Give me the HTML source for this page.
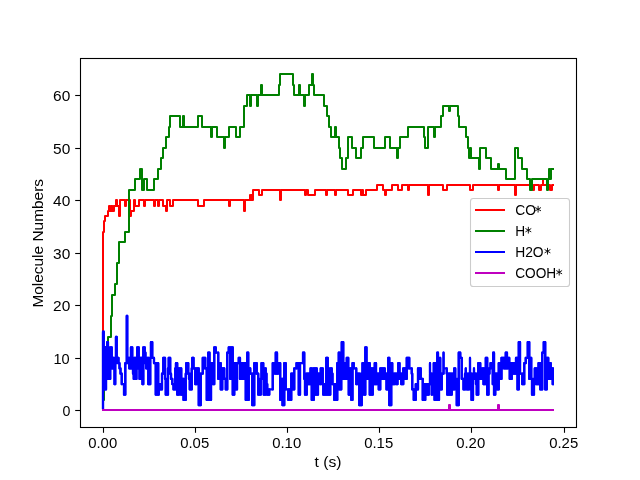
<!DOCTYPE html><html><head><meta charset="utf-8"><title>plot</title>
<style>html,body{margin:0;padding:0;background:#fff;}svg{display:block;will-change:transform;}text{font-family:"Liberation Sans",sans-serif;fill:#000;}</style></head><body>
<svg width="640" height="480" viewBox="0 0 640 480">
<rect x="0" y="0" width="640" height="480" fill="#ffffff"/>
<g fill="none" stroke-width="2.08" stroke-linejoin="round" stroke-linecap="butt">
<path d="M103 410 L103 232 L104 232 L104 221 L105 221 L105 216 L108 216 L108 211 L109 211 L109 206 L110 206 L110 211 L111 211 L111 206 L112 206 L112 211 L113 211 L113 206 L113 211 L114 211 L114 206 L116 206 L116 200 L117 200 L117 206 L119 206 L119 216 L120 216 L120 200 L125 200 L125 206 L126 206 L126 200 L130 200 L130 216 L131 216 L131 211 L134 211 L134 200 L135 200 L135 206 L139 206 L139 200 L144 200 L144 206 L145 206 L145 200 L154 200 L154 206 L155 206 L155 200 L158 200 L158 206 L159 206 L159 200 L163 200 L163 206 L166 206 L166 211 L167 211 L167 200 L170 200 L170 206 L173 206 L173 200 L198 200 L198 206 L204 206 L204 200 L229 200 L229 206 L230 206 L230 200 L244 200 L244 211 L245 211 L245 200 L250 200 L250 195 L250 200 L251 200 L251 195 L252 195 L252 200 L253 200 L253 190 L259 190 L259 195 L262 195 L262 190 L280 190 L280 200 L281 200 L281 190 L305 190 L305 195 L306 195 L306 190 L308 190 L308 195 L315 195 L315 190 L326 190 L326 195 L327 195 L327 190 L335 190 L335 195 L336 195 L336 190 L348 190 L348 195 L353 195 L353 190 L361 190 L361 195 L362 195 L362 190 L363 190 L363 195 L366 195 L366 190 L377 190 L377 185 L383 185 L383 190 L385 190 L385 195 L386 195 L386 190 L392 190 L392 185 L398 185 L398 190 L402 190 L402 185 L408 185 L408 190 L409 190 L409 185 L428 185 L428 195 L429 195 L429 185 L443 185 L443 190 L447 190 L447 185 L470 185 L470 190 L473 190 L473 185 L498 185 L498 190 L499 190 L499 185 L515 185 L515 195 L516 195 L516 185 L533 185 L533 190 L534 190 L534 185 L539 185 L539 190 L541 190 L541 185 L543 185 L543 179 L543 185 L550 185 L550 190 L552 190 L552 185 L554 185" stroke="#ff0000" stroke-width="2"/>
<path d="M103 410 L103 400 L104 400 L104 379 L106 379 L106 358 L106 347 L108 347 L108 337 L111 337 L111 316 L112 316 L112 305 L112 295 L115 295 L115 284 L117 284 L117 263 L119 263 L119 242 L125 242 L125 232 L129 232 L129 190 L135 190 L135 179 L140 179 L140 169 L142 169 L142 190 L144 190 L144 179 L147 179 L147 190 L154 190 L154 179 L158 179 L158 169 L161 169 L161 158 L163 158 L163 148 L166 148 L166 137 L169 137 L169 127 L170 127 L170 116 L180 116 L180 127 L183 127 L183 116 L184 116 L184 127 L198 127 L198 116 L202 116 L202 127 L211 127 L211 137 L212 137 L212 127 L217 127 L217 137 L224 137 L224 148 L225 148 L225 137 L229 137 L229 127 L236 127 L236 137 L240 137 L240 127 L244 127 L244 106 L247 106 L247 95 L250 95 L250 106 L251 106 L251 95 L257 95 L257 106 L258 106 L258 95 L261 95 L261 85 L262 85 L262 95 L279 95 L279 85 L280 85 L280 74 L293 74 L293 85 L294 85 L294 95 L299 95 L299 85 L300 85 L300 95 L304 95 L304 106 L305 106 L305 95 L309 95 L309 85 L312 85 L312 74 L313 74 L313 85 L314 85 L314 95 L324 95 L324 106 L327 106 L327 116 L329 116 L329 127 L331 127 L331 137 L335 137 L335 127 L336 127 L336 137 L339 137 L339 148 L340 148 L340 158 L342 158 L342 169 L346 169 L346 158 L348 158 L348 148 L348 137 L352 137 L352 148 L356 148 L356 158 L361 158 L361 148 L363 148 L363 137 L374 137 L374 148 L385 148 L385 137 L390 137 L390 148 L397 148 L397 158 L398 158 L398 148 L400 148 L400 137 L408 137 L408 127 L424 127 L424 137 L425 137 L425 148 L428 148 L428 127 L434 127 L434 137 L435 137 L435 127 L441 127 L441 116 L443 116 L443 106 L449 106 L449 111 L450 111 L450 106 L458 106 L458 116 L459 116 L459 127 L466 127 L466 137 L468 137 L468 148 L469 148 L469 158 L470 158 L470 148 L471 148 L471 158 L479 158 L479 169 L480 169 L480 148 L486 148 L486 158 L491 158 L491 169 L498 169 L498 164 L499 164 L499 169 L506 169 L506 179 L515 179 L515 148 L518 148 L518 158 L522 158 L522 169 L527 169 L527 179 L530 179 L530 190 L532 190 L532 179 L547 179 L547 190 L548 190 L548 179 L549 179 L549 169 L550 169 L550 179 L551 179 L551 169 L554 169" stroke="#008000" stroke-width="2"/>
<clipPath id="cb"><rect x="80" y="58" width="474.1" height="370"/></clipPath>
<g clip-path="url(#cb)">
<path d="M103.00 409.35 L103.00 331.65 L103.60 331.65 L103.70 331.65 L103.70 384.15 L103.80 384.15 L104.05 384.15 L104.05 352.65 L104.30 352.65 L104.55 352.65 L104.55 389.40 L104.80 389.40 L105.05 389.40 L105.05 347.40 L105.30 347.40 L105.55 347.40 L105.55 389.40 L105.80 389.40 L106.05 389.40 L106.05 357.90 L106.30 357.90 L106.55 357.90 L106.55 378.90 L106.80 378.90 L107.15 378.90 L107.15 342.15 L107.50 342.15 L107.90 342.15 L107.90 378.90 L108.30 378.90 L110.00 378.90 L110.15 378.90 L110.15 368.40 L110.30 368.40 L110.55 368.40 L110.55 347.40 L110.80 347.40 L111.50 347.40 L111.75 347.40 L111.75 368.40 L112.00 368.40 L112.25 368.40 L112.25 357.90 L112.50 357.90 L113.30 357.90 L113.65 357.90 L113.65 368.40 L114.00 368.40 L114.50 368.40 L114.50 384.15 L115.00 384.15 L115.25 384.15 L115.25 363.15 L115.50 363.15 L115.90 363.15 L115.90 336.90 L116.30 336.90 L116.65 336.90 L116.65 357.90 L117.00 357.90 L118.00 357.90 L118.50 357.90 L118.50 363.15 L119.00 363.15 L119.50 363.15 L119.50 368.40 L120.00 368.40 L120.50 368.40 L120.50 373.65 L121.00 373.65 L121.75 373.65 L121.75 384.15 L122.50 384.15 L123.50 384.15 L124.10 384.15 L124.10 394.65 L124.70 394.65 L125.20 394.65 L125.35 394.65 L125.35 363.15 L125.50 363.15 L126.60 363.15 L126.80 363.15 L126.80 315.90 L127.00 315.90 L127.25 315.90 L127.25 357.90 L127.50 357.90 L129.00 357.90 L129.35 357.90 L129.35 368.40 L129.70 368.40 L130.50 368.40 L130.90 368.40 L130.90 347.40 L131.30 347.40 L132.00 347.40 L132.25 347.40 L132.25 368.40 L132.50 368.40 L133.00 368.40 L133.00 373.65 L133.50 373.65 L133.75 373.65 L133.75 378.90 L134.00 378.90 L134.50 378.90 L134.65 378.90 L134.65 357.90 L134.80 357.90 L135.30 357.90 L135.45 357.90 L135.45 378.90 L135.60 378.90 L136.00 378.90 L136.40 378.90 L136.40 368.40 L136.80 368.40 L137.15 368.40 L137.15 347.40 L137.50 347.40 L138.30 347.40 L138.65 347.40 L138.65 368.40 L139.00 368.40 L139.50 368.40 L139.50 378.90 L140.00 378.90 L140.20 378.90 L140.20 357.90 L140.40 357.90 L140.90 357.90 L141.05 357.90 L141.05 378.90 L141.20 378.90 L141.35 378.90 L141.35 368.40 L141.50 368.40 L141.70 368.40 L141.70 357.90 L141.90 357.90 L142.30 357.90 L142.40 357.90 L142.40 384.15 L142.50 384.15 L143.00 384.15 L143.35 384.15 L143.35 347.40 L143.70 347.40 L144.50 347.40 L144.75 347.40 L144.75 352.65 L145.00 352.65 L145.40 352.65 L145.40 363.15 L145.80 363.15 L146.25 363.15 L146.25 368.40 L146.70 368.40 L147.50 368.40 L147.65 368.40 L147.65 357.90 L147.80 357.90 L148.20 357.90 L148.35 357.90 L148.35 384.15 L148.50 384.15 L149.00 384.15 L149.15 384.15 L149.15 363.15 L149.30 363.15 L149.70 363.15 L149.85 363.15 L149.85 384.15 L150.00 384.15 L150.25 384.15 L150.25 357.90 L150.50 357.90 L150.90 357.90 L150.90 342.15 L151.30 342.15 L152.00 342.15 L152.25 342.15 L152.25 357.90 L152.50 357.90 L153.50 357.90 L154.00 357.90 L154.00 363.15 L154.50 363.15 L155.50 363.15 L155.75 363.15 L155.75 394.65 L156.00 394.65 L157.00 394.65 L157.25 394.65 L157.25 363.15 L157.50 363.15 L158.00 363.15 L158.15 363.15 L158.15 394.65 L158.30 394.65 L158.65 394.65 L158.65 384.15 L159.00 384.15 L159.50 384.15 L159.50 389.40 L160.00 389.40 L161.50 389.40 L162.00 389.40 L162.00 373.65 L162.50 373.65 L163.25 373.65 L163.25 357.90 L164.00 357.90 L164.70 357.90 L165.10 357.90 L165.10 378.90 L165.50 378.90 L165.75 378.90 L165.75 394.65 L166.00 394.65 L167.50 394.65 L167.90 394.65 L167.90 368.40 L168.30 368.40 L168.65 368.40 L168.65 357.90 L169.00 357.90 L169.80 357.90 L170.15 357.90 L170.15 373.65 L170.50 373.65 L171.10 373.65 L171.10 378.90 L171.70 378.90 L172.35 378.90 L172.35 384.15 L173.00 384.15 L173.50 384.15 L173.50 389.40 L174.00 389.40 L175.00 389.40 L175.25 389.40 L175.25 368.40 L175.50 368.40 L175.90 368.40 L175.90 363.15 L176.30 363.15 L177.00 363.15 L177.15 363.15 L177.15 394.65 L177.30 394.65 L178.50 394.65 L178.75 394.65 L178.75 368.40 L179.00 368.40 L181.00 368.40 L181.25 368.40 L181.25 394.65 L181.50 394.65 L182.50 394.65 L182.75 394.65 L182.75 378.90 L183.00 378.90 L183.50 378.90 L183.50 399.90 L184.00 399.90 L185.50 399.90 L185.75 399.90 L185.75 373.65 L186.00 373.65 L186.25 373.65 L186.25 363.15 L186.50 363.15 L188.00 363.15 L188.25 363.15 L188.25 373.65 L188.50 373.65 L189.00 373.65 L189.00 378.90 L189.50 378.90 L189.75 378.90 L189.75 389.40 L190.00 389.40 L191.50 389.40 L191.75 389.40 L191.75 368.40 L192.00 368.40 L192.25 368.40 L192.25 357.90 L192.50 357.90 L193.20 357.90 L193.60 357.90 L193.60 368.40 L194.00 368.40 L195.00 368.40 L195.25 368.40 L195.25 384.15 L195.50 384.15 L196.50 384.15 L196.75 384.15 L196.75 368.40 L197.00 368.40 L198.50 368.40 L198.75 368.40 L198.75 405.15 L199.00 405.15 L200.50 405.15 L200.75 405.15 L200.75 373.65 L201.00 373.65 L202.50 373.65 L202.75 373.65 L202.75 357.90 L203.00 357.90 L205.00 357.90 L205.25 357.90 L205.25 368.40 L205.50 368.40 L206.50 368.40 L206.75 368.40 L206.75 399.90 L207.00 399.90 L208.00 399.90 L208.25 399.90 L208.25 352.65 L208.50 352.65 L209.30 352.65 L209.55 352.65 L209.55 399.90 L209.80 399.90 L210.80 399.90 L211.05 399.90 L211.05 363.15 L211.30 363.15 L213.00 363.15 L213.25 363.15 L213.25 384.15 L213.50 384.15 L214.00 384.15 L214.25 384.15 L214.25 347.40 L214.50 347.40 L215.50 347.40 L215.75 347.40 L215.75 352.65 L216.00 352.65 L218.00 352.65 L218.25 352.65 L218.25 378.90 L218.50 378.90 L218.90 378.90 L218.90 363.15 L219.30 363.15 L220.50 363.15 L220.75 363.15 L220.75 389.40 L221.00 389.40 L222.00 389.40 L222.25 389.40 L222.25 368.40 L222.50 368.40 L224.00 368.40 L224.25 368.40 L224.25 378.90 L224.50 378.90 L225.50 378.90 L225.75 378.90 L225.75 389.40 L226.00 389.40 L227.00 389.40 L227.25 389.40 L227.25 352.65 L227.50 352.65 L228.50 352.65 L228.75 352.65 L228.75 347.40 L229.00 347.40 L230.00 347.40 L230.15 347.40 L230.15 378.90 L230.30 378.90 L230.80 378.90 L231.00 378.90 L231.00 347.40 L231.20 347.40 L232.50 347.40 L232.75 347.40 L232.75 394.65 L233.00 394.65 L234.00 394.65 L234.25 394.65 L234.25 363.15 L234.50 363.15 L235.50 363.15 L235.75 363.15 L235.75 389.40 L236.00 389.40 L236.80 389.40 L237.05 389.40 L237.05 363.15 L237.30 363.15 L238.50 363.15 L238.75 363.15 L238.75 357.90 L239.00 357.90 L239.70 357.90 L239.95 357.90 L239.95 378.90 L240.20 378.90 L242.00 378.90 L242.25 378.90 L242.25 363.15 L242.50 363.15 L243.30 363.15 L243.43 363.15 L243.43 378.90 L243.55 378.90 L243.95 378.90 L244.07 378.90 L244.07 363.15 L244.20 363.15 L245.00 363.15 L245.25 363.15 L245.25 378.90 L245.50 378.90 L245.75 378.90 L245.75 399.90 L246.00 399.90 L247.00 399.90 L247.25 399.90 L247.25 352.65 L247.50 352.65 L248.00 352.65 L248.25 352.65 L248.25 399.90 L248.50 399.90 L248.75 399.90 L248.75 368.40 L249.00 368.40 L250.00 368.40 L250.25 368.40 L250.25 373.65 L250.50 373.65 L252.00 373.65 L252.25 373.65 L252.25 405.15 L252.50 405.15 L254.00 405.15 L254.25 405.15 L254.25 363.15 L254.50 363.15 L256.50 363.15 L256.75 363.15 L256.75 373.65 L257.00 373.65 L258.00 373.65 L258.25 373.65 L258.25 394.65 L258.50 394.65 L260.50 394.65 L260.75 394.65 L260.75 378.90 L261.00 378.90 L261.40 378.90 L261.40 363.15 L261.80 363.15 L263.00 363.15 L263.25 363.15 L263.25 368.40 L263.50 368.40 L263.75 368.40 L263.75 394.65 L264.00 394.65 L265.00 394.65 L265.25 394.65 L265.25 368.40 L265.50 368.40 L265.75 368.40 L265.75 373.65 L266.00 373.65 L266.50 373.65 L266.50 384.15 L267.00 384.15 L267.25 384.15 L267.25 394.65 L267.50 394.65 L269.00 394.65 L269.25 394.65 L269.25 389.40 L269.50 389.40 L272.50 389.40 L272.75 389.40 L272.75 363.15 L273.00 363.15 L275.00 363.15 L275.25 363.15 L275.25 373.65 L275.50 373.65 L275.75 373.65 L275.75 352.65 L276.00 352.65 L276.80 352.65 L277.05 352.65 L277.05 373.65 L277.30 373.65 L277.90 373.65 L277.90 368.40 L278.50 368.40 L279.50 368.40 L279.75 368.40 L279.75 363.15 L280.00 363.15 L280.15 363.15 L280.15 399.90 L280.30 399.90 L281.50 399.90 L281.75 399.90 L281.75 378.90 L282.00 378.90 L282.50 378.90 L282.50 405.15 L283.00 405.15 L284.00 405.15 L284.25 405.15 L284.25 363.15 L284.50 363.15 L285.50 363.15 L285.75 363.15 L285.75 389.40 L286.00 389.40 L288.00 389.40 L288.25 389.40 L288.25 399.90 L288.50 399.90 L289.30 399.90 L289.43 399.90 L289.43 389.40 L289.55 389.40 L289.95 389.40 L290.07 389.40 L290.07 399.90 L290.20 399.90 L291.00 399.90 L291.25 399.90 L291.25 373.65 L291.50 373.65 L292.30 373.65 L292.55 373.65 L292.55 389.40 L292.80 389.40 L294.00 389.40 L294.25 389.40 L294.25 368.40 L294.50 368.40 L296.00 368.40 L296.50 368.40 L296.50 363.15 L297.00 363.15 L298.50 363.15 L298.75 363.15 L298.75 394.65 L299.00 394.65 L299.80 394.65 L300.05 394.65 L300.05 363.15 L300.30 363.15 L302.00 363.15 L302.80 363.15 L303.05 363.15 L303.05 352.65 L303.30 352.65 L304.00 352.65 L304.25 352.65 L304.25 378.90 L304.50 378.90 L305.00 378.90 L305.00 394.65 L305.50 394.65 L306.50 394.65 L306.75 394.65 L306.75 373.65 L307.00 373.65 L307.80 373.65 L307.93 373.65 L307.93 384.15 L308.05 384.15 L308.45 384.15 L308.57 384.15 L308.57 373.65 L308.70 373.65 L309.50 373.65 L309.75 373.65 L309.75 384.15 L310.00 384.15 L310.50 384.15 L310.50 368.40 L311.00 368.40 L311.50 368.40 L311.75 368.40 L311.75 399.90 L312.00 399.90 L313.50 399.90 L313.75 399.90 L313.75 368.40 L314.00 368.40 L314.80 368.40 L314.93 368.40 L314.93 394.65 L315.05 394.65 L315.45 394.65 L315.57 394.65 L315.57 368.40 L315.70 368.40 L316.50 368.40 L316.75 368.40 L316.75 394.65 L317.00 394.65 L317.70 394.65 L317.95 394.65 L317.95 373.65 L318.20 373.65 L320.00 373.65 L320.25 373.65 L320.25 384.15 L320.50 384.15 L320.75 384.15 L320.75 368.40 L321.00 368.40 L322.50 368.40 L322.75 368.40 L322.75 384.15 L323.00 384.15 L323.25 384.15 L323.25 394.65 L323.50 394.65 L324.30 394.65 L324.43 394.65 L324.43 384.15 L324.55 384.15 L324.95 384.15 L325.07 384.15 L325.07 394.65 L325.20 394.65 L326.00 394.65 L326.25 394.65 L326.25 357.90 L326.50 357.90 L327.50 357.90 L327.75 357.90 L327.75 394.65 L328.00 394.65 L330.00 394.65 L330.25 394.65 L330.25 368.40 L330.50 368.40 L331.50 368.40 L331.75 368.40 L331.75 373.65 L332.00 373.65 L332.50 373.65 L332.50 384.15 L333.00 384.15 L334.00 384.15 L334.25 384.15 L334.25 399.90 L334.50 399.90 L335.30 399.90 L335.43 399.90 L335.43 384.15 L335.55 384.15 L335.95 384.15 L336.07 384.15 L336.07 399.90 L336.20 399.90 L337.00 399.90 L337.25 399.90 L337.25 363.15 L337.50 363.15 L338.50 363.15 L338.75 363.15 L338.75 352.65 L339.00 352.65 L339.25 352.65 L339.25 389.40 L339.50 389.40 L341.00 389.40 L341.25 389.40 L341.25 352.65 L341.50 352.65 L341.75 352.65 L341.75 342.15 L342.00 342.15 L343.00 342.15 L343.25 342.15 L343.25 378.90 L343.50 378.90 L344.00 378.90 L344.00 363.15 L344.50 363.15 L346.00 363.15 L346.25 363.15 L346.25 378.90 L346.50 378.90 L346.75 378.90 L346.75 357.90 L347.00 357.90 L348.00 357.90 L348.25 357.90 L348.25 378.90 L348.50 378.90 L348.75 378.90 L348.75 394.65 L349.00 394.65 L349.80 394.65 L350.00 394.65 L350.00 368.40 L350.20 368.40 L350.70 368.40 L350.85 368.40 L350.85 394.65 L351.00 394.65 L351.25 394.65 L351.25 399.90 L351.50 399.90 L352.30 399.90 L352.50 399.90 L352.50 363.15 L352.70 363.15 L353.50 363.15 L353.75 363.15 L353.75 368.40 L354.00 368.40 L356.00 368.40 L356.25 368.40 L356.25 384.15 L356.50 384.15 L357.00 384.15 L357.00 373.65 L357.50 373.65 L359.00 373.65 L359.25 373.65 L359.25 405.15 L359.50 405.15 L361.50 405.15 L361.75 405.15 L361.75 373.65 L362.00 373.65 L362.40 373.65 L362.40 363.15 L362.80 363.15 L364.00 363.15 L364.15 363.15 L364.15 394.65 L364.30 394.65 L365.20 394.65 L365.35 394.65 L365.35 347.40 L365.50 347.40 L366.30 347.40 L366.55 347.40 L366.55 378.90 L366.80 378.90 L367.15 378.90 L367.15 363.15 L367.50 363.15 L369.50 363.15 L369.75 363.15 L369.75 394.65 L370.00 394.65 L370.80 394.65 L370.93 394.65 L370.93 368.40 L371.05 368.40 L371.45 368.40 L371.57 368.40 L371.57 394.65 L371.70 394.65 L372.50 394.65 L372.75 394.65 L372.75 368.40 L373.00 368.40 L374.00 368.40 L374.25 368.40 L374.25 384.15 L374.50 384.15 L374.75 384.15 L374.75 363.15 L375.00 363.15 L375.80 363.15 L376.05 363.15 L376.05 384.15 L376.30 384.15 L376.90 384.15 L376.90 373.65 L377.50 373.65 L378.50 373.65 L378.75 373.65 L378.75 389.40 L379.00 389.40 L380.00 389.40 L380.25 389.40 L380.25 368.40 L380.50 368.40 L381.38 368.40 L381.51 368.40 L381.51 378.90 L381.63 378.90 L382.03 378.90 L382.16 378.90 L382.16 368.40 L382.28 368.40 L382.72 368.40 L382.84 368.40 L382.84 378.90 L382.97 378.90 L383.37 378.90 L383.49 378.90 L383.49 368.40 L383.62 368.40 L384.50 368.40 L384.75 368.40 L384.75 378.90 L385.00 378.90 L385.50 378.90 L385.50 373.65 L386.00 373.65 L386.50 373.65 L386.50 389.40 L387.00 389.40 L388.00 389.40 L388.25 389.40 L388.25 357.90 L388.50 357.90 L389.20 357.90 L389.35 357.90 L389.35 405.15 L389.50 405.15 L391.00 405.15 L391.25 405.15 L391.25 363.15 L391.50 363.15 L392.00 363.15 L392.25 363.15 L392.25 373.65 L392.50 373.65 L393.00 373.65 L393.00 384.15 L393.50 384.15 L394.25 384.15 L394.25 373.65 L395.00 373.65 L396.50 373.65 L396.75 373.65 L396.75 384.15 L397.00 384.15 L397.50 384.15 L397.50 373.65 L398.00 373.65 L398.25 373.65 L398.25 363.15 L398.50 363.15 L399.30 363.15 L399.55 363.15 L399.55 378.90 L399.80 378.90 L400.40 378.90 L400.40 373.65 L401.00 373.65 L401.25 373.65 L401.25 384.15 L401.50 384.15 L403.00 384.15 L403.25 384.15 L403.25 368.40 L403.50 368.40 L404.30 368.40 L404.43 368.40 L404.43 378.90 L404.55 378.90 L404.95 378.90 L405.07 378.90 L405.07 368.40 L405.20 368.40 L406.00 368.40 L406.25 368.40 L406.25 378.90 L406.50 378.90 L406.75 378.90 L406.75 357.90 L407.00 357.90 L409.00 357.90 L409.25 357.90 L409.25 368.40 L409.50 368.40 L411.50 368.40 L411.75 368.40 L411.75 373.65 L412.00 373.65 L412.25 373.65 L412.25 389.40 L412.50 389.40 L413.50 389.40 L413.75 389.40 L413.75 399.90 L414.00 399.90 L415.50 399.90 L415.75 399.90 L415.75 384.15 L416.00 384.15 L417.00 384.15 L417.25 384.15 L417.25 389.40 L417.50 389.40 L418.00 389.40 L418.00 368.40 L418.50 368.40 L420.50 368.40 L420.75 368.40 L420.75 378.90 L421.00 378.90 L422.50 378.90 L422.75 378.90 L422.75 399.90 L423.00 399.90 L425.00 399.90 L425.25 399.90 L425.25 384.15 L425.50 384.15 L425.75 384.15 L425.75 394.65 L426.00 394.65 L426.80 394.65 L426.93 394.65 L426.93 384.15 L427.05 384.15 L427.45 384.15 L427.57 384.15 L427.57 394.65 L427.70 394.65 L428.50 394.65 L428.75 394.65 L428.75 384.15 L429.00 384.15 L430.00 384.15 L430.00 363.15 L430.00 373.65 L431.70 373.65 L431.70 394.65 L431.70 378.90 L433.80 378.90 L433.80 363.15 L434.60 363.15 L434.60 399.90 L435.30 399.90 L435.30 363.15 L435.30 373.65 L437.30 373.65 L437.30 352.65 L438.00 352.65 L438.00 399.90 L439.00 399.90 L439.00 378.90 L440.20 378.90 L440.20 357.90 L440.20 389.40 L441.80 389.40 L441.80 373.65 L443.60 373.65 L443.60 352.65 L443.60 368.40 L446.50 368.40 L446.75 368.40 L446.75 373.65 L447.00 373.65 L447.25 373.65 L447.25 394.65 L447.50 394.65 L448.38 394.65 L448.51 394.65 L448.51 373.65 L448.63 373.65 L449.03 373.65 L449.16 373.65 L449.16 394.65 L449.28 394.65 L449.72 394.65 L449.84 394.65 L449.84 373.65 L449.97 373.65 L450.37 373.65 L450.49 373.65 L450.49 394.65 L450.62 394.65 L451.50 394.65 L451.75 394.65 L451.75 373.65 L452.00 373.65 L452.25 373.65 L452.25 389.40 L452.50 389.40 L454.00 389.40 L454.15 389.40 L454.15 368.40 L454.30 368.40 L455.00 368.40 L455.25 368.40 L455.25 378.90 L455.50 378.90 L456.00 378.90 L456.00 384.15 L456.50 384.15 L456.75 384.15 L456.75 405.15 L457.00 405.15 L458.50 405.15 L458.75 405.15 L458.75 352.65 L459.00 352.65 L460.00 352.65 L460.25 352.65 L460.25 357.90 L460.50 357.90 L461.50 357.90 L461.75 357.90 L461.75 378.90 L462.00 378.90 L463.50 378.90 L463.50 389.40 L465.00 389.40 L465.00 373.65 L465.80 373.65 L465.80 368.40 L465.80 373.65 L467.00 373.65 L467.00 389.40 L468.80 389.40 L468.80 373.65 L470.00 373.65 L470.00 357.90 L470.00 373.65 L471.50 373.65 L471.50 399.90 L473.00 399.90 L473.00 378.90 L474.00 378.90 L474.00 368.40 L474.00 373.65 L475.30 373.65 L475.90 373.65 L475.90 384.15 L476.50 384.15 L476.75 384.15 L476.75 394.65 L477.00 394.65 L478.00 394.65 L478.25 394.65 L478.25 363.15 L478.50 363.15 L480.00 363.15 L480.25 363.15 L480.25 368.40 L480.50 368.40 L480.75 368.40 L480.75 378.90 L481.00 378.90 L482.50 378.90 L482.75 378.90 L482.75 368.40 L483.00 368.40 L483.50 368.40 L483.50 384.15 L484.00 384.15 L485.00 384.15 L485.25 384.15 L485.25 368.40 L485.50 368.40 L485.85 368.40 L485.85 357.90 L486.20 357.90 L487.00 357.90 L487.15 357.90 L487.15 394.65 L487.30 394.65 L488.30 394.65 L488.55 394.65 L488.55 373.65 L488.80 373.65 L489.40 373.65 L489.40 368.40 L490.00 368.40 L490.50 368.40 L490.50 363.15 L491.00 363.15 L492.50 363.15 L492.75 363.15 L492.75 384.15 L493.00 384.15 L493.15 384.15 L493.15 352.65 L493.30 352.65 L493.90 352.65 L494.05 352.65 L494.05 394.65 L494.20 394.65 L495.00 394.65 L495.25 394.65 L495.25 373.65 L495.50 373.65 L497.00 373.65 L497.25 373.65 L497.25 389.40 L497.50 389.40 L498.50 389.40 L498.75 389.40 L498.75 363.15 L499.00 363.15 L500.50 363.15 L500.75 363.15 L500.75 378.90 L501.00 378.90 L501.50 378.90 L501.50 357.90 L502.00 357.90 L504.00 357.90 L504.25 357.90 L504.25 368.40 L504.50 368.40 L505.50 368.40 L505.75 368.40 L505.75 352.65 L506.00 352.65 L506.70 352.65 L506.95 352.65 L506.95 368.40 L507.20 368.40 L507.60 368.40 L507.60 357.90 L508.00 357.90 L509.00 357.90 L509.25 357.90 L509.25 363.15 L509.50 363.15 L509.75 363.15 L509.75 378.90 L510.00 378.90 L511.50 378.90 L511.75 378.90 L511.75 363.15 L512.00 363.15 L513.05 363.15 L513.17 363.15 L513.17 373.65 L513.30 373.65 L513.70 373.65 L513.83 373.65 L513.83 363.15 L513.95 363.15 L515.00 363.15 L515.25 363.15 L515.25 373.65 L515.50 373.65 L516.00 373.65 L516.00 357.90 L516.50 357.90 L517.30 357.90 L517.50 357.90 L517.50 389.40 L517.70 389.40 L518.60 389.40 L518.80 389.40 L518.80 342.15 L519.00 342.15 L519.80 342.15 L520.05 342.15 L520.05 373.65 L520.30 373.65 L522.00 373.65 L522.25 373.65 L522.25 384.15 L522.50 384.15 L524.00 384.15 L524.25 384.15 L524.25 363.15 L524.50 363.15 L525.50 363.15 L525.75 363.15 L525.75 357.90 L526.00 357.90 L527.50 357.90 L527.75 357.90 L527.75 342.15 L528.00 342.15 L529.00 342.15 L529.25 342.15 L529.25 378.90 L529.50 378.90 L529.75 378.90 L529.75 357.90 L530.00 357.90 L531.00 357.90 L531.25 357.90 L531.25 378.90 L531.50 378.90 L532.00 378.90 L532.00 394.65 L532.50 394.65 L533.70 394.65 L533.95 394.65 L533.95 378.90 L534.20 378.90 L534.85 378.90 L534.85 368.40 L535.50 368.40 L536.30 368.40 L536.55 368.40 L536.55 384.15 L536.80 384.15 L538.30 384.15 L538.55 384.15 L538.55 363.15 L538.80 363.15 L540.00 363.15 L540.25 363.15 L540.25 389.40 L540.50 389.40 L542.00 389.40 L542.25 389.40 L542.25 352.65 L542.50 352.65 L543.50 352.65 L543.75 352.65 L543.75 342.15 L544.00 342.15 L545.00 342.15 L545.15 342.15 L545.15 389.40 L545.30 389.40 L546.50 389.40 L546.75 389.40 L546.75 357.90 L547.00 357.90 L548.00 357.90 L548.25 357.90 L548.25 378.90 L548.50 378.90 L548.75 378.90 L548.75 363.15 L549.00 363.15 L550.50 363.15 L550.75 363.15 L550.75 378.90 L551.00 378.90 L551.25 378.90 L551.25 368.40 L551.50 368.40 L552.50 368.40 L552.65 368.40 L552.65 384.15 L552.80 384.15 L553.40 384.15 L553.40 373.65" stroke="#0000ff" stroke-width="2.08"/>
<path d="M102.88 331.65H103.12V409.09H102.88ZM103.12 331.65H103.88V389.40H103.12ZM103.88 347.40H106.12V389.40H103.88ZM106.12 347.40H107.12V378.90H106.12ZM107.12 342.15H108.12V378.90H107.12ZM108.12 347.40H110.38V378.90H108.12ZM110.38 347.40H111.88V368.40H110.38ZM111.88 357.90H114.38V368.40H111.88ZM114.38 357.90H115.38V384.15H114.38ZM115.38 357.90H115.88V363.15H115.38ZM115.88 336.90H116.88V363.15H115.88ZM116.88 357.90H118.62V363.15H116.88ZM119.38 363.15H119.62V368.40H119.38ZM120.38 368.40H120.62V373.65H120.38ZM121.62 373.65H121.88V384.15H121.62ZM123.88 384.15H125.12V394.65H123.88ZM125.12 363.15H125.38V394.65H125.12ZM126.62 315.90H127.38V363.15H126.62ZM127.38 357.90H129.12V363.15H127.38ZM129.12 357.90H130.88V368.40H129.12ZM130.88 347.40H132.38V368.40H130.88ZM132.38 357.90H132.88V368.40H132.38ZM132.88 357.90H133.62V373.65H132.88ZM133.62 357.90H136.62V378.90H133.62ZM136.62 357.90H137.12V368.40H136.62ZM137.12 347.40H138.88V368.40H137.12ZM138.88 357.90H139.38V368.40H138.88ZM139.38 357.90H142.38V378.90H139.38ZM142.38 357.90H143.12V384.15H142.38ZM143.12 347.40H143.38V384.15H143.12ZM143.38 347.40H144.88V363.15H143.38ZM144.88 352.65H145.62V363.15H144.88ZM145.62 357.90H146.12V363.15H145.62ZM146.12 357.90H148.12V368.40H146.12ZM148.12 357.90H150.38V384.15H148.12ZM150.88 342.15H152.38V357.90H150.88ZM153.88 357.90H154.12V363.15H153.88ZM155.62 363.15H158.38V394.65H155.62ZM158.38 384.15H158.88V394.65H158.38ZM158.88 384.15H161.88V389.40H158.88ZM161.88 373.65H162.12V389.40H161.88ZM163.12 357.90H164.88V373.65H163.12ZM164.88 357.90H165.12V378.90H164.88ZM165.62 378.90H167.88V394.65H165.62ZM167.88 368.40H168.12V394.65H167.88ZM168.12 368.40H168.62V373.65H168.12ZM168.62 357.90H170.38V373.65H168.62ZM170.88 373.65H171.12V378.90H170.88ZM172.12 378.90H172.38V384.15H172.12ZM173.38 384.15H175.12V389.40H173.38ZM175.12 368.40H175.88V389.40H175.12ZM175.88 363.15H177.12V389.40H175.88ZM177.12 363.15H177.38V394.65H177.12ZM177.38 368.40H181.38V394.65H177.38ZM181.38 378.90H183.38V394.65H181.38ZM183.38 378.90H185.62V399.90H183.38ZM185.62 373.65H185.88V399.90H185.62ZM186.12 363.15H188.38V373.65H186.12ZM188.88 373.65H189.62V378.90H188.88ZM189.62 373.65H191.62V389.40H189.62ZM191.62 368.40H191.88V389.40H191.62ZM192.12 357.90H193.62V368.40H192.12ZM195.12 368.40H198.62V384.15H195.12ZM198.62 368.40H198.88V405.15H198.62ZM198.88 373.65H200.88V405.15H198.88ZM202.62 357.90H202.88V373.65H202.62ZM202.88 357.90H205.38V368.40H202.88ZM206.62 368.40H208.12V399.90H206.62ZM208.12 352.65H209.62V399.90H208.12ZM209.62 363.15H211.12V399.90H209.62ZM211.12 363.15H214.12V384.15H211.12ZM214.12 347.40H214.38V384.15H214.12ZM214.38 347.40H215.88V352.65H214.38ZM218.12 352.65H218.38V378.90H218.12ZM218.38 363.15H220.62V378.90H218.38ZM220.62 363.15H220.88V389.40H220.62ZM220.88 368.40H222.38V389.40H220.88ZM222.38 368.40H224.38V378.90H222.38ZM225.62 378.90H227.12V389.40H225.62ZM227.12 352.65H227.38V389.40H227.12ZM228.62 347.40H230.12V352.65H228.62ZM230.12 347.40H232.62V378.90H230.12ZM232.62 347.40H232.88V394.65H232.62ZM232.88 363.15H234.38V394.65H232.88ZM234.38 363.15H237.12V389.40H234.38ZM238.62 357.90H239.88V363.15H238.62ZM239.88 357.90H240.12V378.90H239.88ZM240.12 363.15H245.62V378.90H240.12ZM245.62 363.15H247.12V399.90H245.62ZM247.12 352.65H248.38V399.90H247.12ZM248.38 368.40H248.88V399.90H248.38ZM248.88 368.40H250.38V373.65H248.88ZM252.12 373.65H254.12V405.15H252.12ZM254.12 363.15H254.38V405.15H254.12ZM254.38 363.15H256.88V373.65H254.38ZM258.12 373.65H258.38V394.65H258.12ZM258.38 378.90H260.88V394.65H258.38ZM261.38 363.15H263.38V378.90H261.38ZM263.38 368.40H263.62V378.90H263.38ZM263.62 368.40H265.88V394.65H263.62ZM265.88 373.65H266.62V394.65H265.88ZM266.62 384.15H267.38V394.65H266.62ZM267.38 389.40H269.38V394.65H267.38ZM272.62 363.15H272.88V389.40H272.62ZM272.88 363.15H275.62V373.65H272.88ZM275.62 352.65H277.12V373.65H275.62ZM277.12 363.15H280.12V373.65H277.12ZM280.12 363.15H280.38V399.90H280.12ZM280.38 378.90H282.38V399.90H280.38ZM282.38 378.90H284.12V405.15H282.38ZM284.12 363.15H284.38V405.15H284.12ZM284.38 363.15H285.88V389.40H284.38ZM288.12 389.40H291.12V399.90H288.12ZM291.12 373.65H291.38V399.90H291.12ZM291.38 373.65H294.12V389.40H291.38ZM294.12 368.40H294.38V389.40H294.12ZM296.38 363.15H298.62V368.40H296.38ZM298.62 363.15H300.12V394.65H298.62ZM302.88 352.65H304.12V363.15H302.88ZM304.12 352.65H304.38V378.90H304.12ZM304.38 373.65H304.88V378.90H304.38ZM304.88 373.65H306.88V394.65H304.88ZM306.88 373.65H310.38V384.15H306.88ZM310.38 368.40H311.62V384.15H310.38ZM311.62 368.40H313.88V399.90H311.62ZM313.88 368.40H316.88V394.65H313.88ZM316.88 373.65H318.12V394.65H316.88ZM318.12 373.65H320.62V384.15H318.12ZM320.62 368.40H322.88V384.15H320.62ZM323.12 384.15H326.12V394.65H323.12ZM326.12 357.90H327.88V394.65H326.12ZM327.88 368.40H330.38V394.65H327.88ZM330.38 368.40H331.88V384.15H330.38ZM331.88 373.65H332.62V384.15H331.88ZM334.12 384.15H337.12V399.90H334.12ZM337.12 363.15H337.38V399.90H337.12ZM337.38 363.15H338.62V389.40H337.38ZM338.62 352.65H341.38V389.40H338.62ZM341.38 352.65H341.62V378.90H341.38ZM341.62 342.15H343.38V378.90H341.62ZM343.38 363.15H346.62V378.90H343.38ZM346.62 357.90H348.38V378.90H346.62ZM348.38 368.40H348.62V378.90H348.38ZM348.62 368.40H351.12V394.65H348.62ZM351.12 368.40H352.38V399.90H351.12ZM352.38 363.15H352.62V399.90H352.38ZM352.62 363.15H353.88V368.40H352.62ZM356.12 368.40H356.38V384.15H356.12ZM356.38 373.65H359.12V384.15H356.38ZM359.12 373.65H361.88V405.15H359.12ZM361.88 373.65H362.38V394.65H361.88ZM362.38 363.15H365.12V394.65H362.38ZM365.12 347.40H365.38V394.65H365.12ZM365.38 347.40H366.62V378.90H365.38ZM366.62 363.15H369.62V378.90H366.62ZM369.62 363.15H369.88V394.65H369.62ZM369.88 368.40H372.88V394.65H369.88ZM372.88 368.40H374.62V384.15H372.88ZM374.62 363.15H376.12V384.15H374.62ZM376.12 373.65H378.62V384.15H376.12ZM378.62 373.65H380.12V389.40H378.62ZM380.12 368.40H380.38V389.40H380.12ZM380.38 368.40H384.88V378.90H380.38ZM384.88 373.65H386.38V378.90H384.88ZM386.38 373.65H388.12V389.40H386.38ZM388.12 357.90H389.12V389.40H388.12ZM389.12 357.90H389.38V405.15H389.12ZM389.38 363.15H391.38V405.15H389.38ZM391.38 363.15H392.38V384.15H391.38ZM392.38 373.65H397.62V384.15H392.38ZM397.62 373.65H398.12V378.90H397.62ZM398.12 363.15H399.62V378.90H398.12ZM399.62 373.65H401.12V378.90H399.62ZM401.12 373.65H403.12V384.15H401.12ZM403.12 368.40H403.38V384.15H403.12ZM403.38 368.40H406.62V378.90H403.38ZM406.62 357.90H406.88V378.90H406.62ZM406.88 357.90H409.38V368.40H406.88ZM411.62 368.40H411.88V373.65H411.62ZM412.12 373.65H412.38V389.40H412.12ZM413.62 389.40H415.62V399.90H413.62ZM415.62 384.15H415.88V399.90H415.62ZM415.88 384.15H417.88V389.40H415.88ZM417.88 368.40H418.12V389.40H417.88ZM418.12 368.40H420.88V378.90H418.12ZM422.62 378.90H422.88V399.90H422.62ZM422.88 384.15H425.38V399.90H422.88ZM425.38 384.15H428.88V394.65H425.38ZM429.88 363.15H430.12V384.15H429.88ZM430.12 373.65H431.62V384.15H430.12ZM431.62 373.65H433.62V394.65H431.62ZM433.62 363.15H434.38V394.65H433.62ZM434.38 363.15H437.12V399.90H434.38ZM437.12 352.65H438.12V399.90H437.12ZM438.12 357.90H439.12V399.90H438.12ZM439.12 357.90H440.38V389.40H439.12ZM440.38 373.65H441.88V389.40H440.38ZM443.38 352.65H443.62V373.65H443.38ZM446.62 368.40H446.88V373.65H446.62ZM447.12 373.65H451.88V394.65H447.12ZM451.88 373.65H454.12V389.40H451.88ZM454.12 368.40H455.38V389.40H454.12ZM455.38 378.90H456.62V389.40H455.38ZM456.62 378.90H458.62V405.15H456.62ZM458.62 352.65H458.88V405.15H458.62ZM458.88 352.65H460.38V357.90H458.88ZM461.62 357.90H461.88V378.90H461.62ZM463.38 378.90H464.88V389.40H463.38ZM464.88 373.65H465.62V389.40H464.88ZM465.62 368.40H465.88V389.40H465.62ZM465.88 373.65H469.88V389.40H465.88ZM469.88 357.90H470.12V389.40H469.88ZM470.12 373.65H471.38V389.40H470.12ZM471.38 373.65H473.12V399.90H471.38ZM473.12 373.65H473.88V378.90H473.12ZM473.88 368.40H474.12V378.90H473.88ZM474.12 373.65H475.88V378.90H474.12ZM475.88 373.65H476.62V384.15H475.88ZM476.62 373.65H478.12V394.65H476.62ZM478.12 363.15H478.38V394.65H478.12ZM478.38 363.15H480.38V378.90H478.38ZM480.38 368.40H483.38V378.90H480.38ZM483.38 368.40H485.62V384.15H483.38ZM485.62 357.90H487.12V384.15H485.62ZM487.12 357.90H487.38V394.65H487.12ZM487.38 368.40H488.62V394.65H487.38ZM488.62 368.40H489.62V373.65H488.62ZM490.38 363.15H492.62V368.40H490.38ZM492.62 363.15H493.12V384.15H492.62ZM493.12 352.65H493.88V384.15H493.12ZM493.88 352.65H494.12V394.65H493.88ZM494.12 373.65H495.38V394.65H494.12ZM495.38 373.65H498.62V389.40H495.38ZM498.62 363.15H498.88V389.40H498.62ZM498.88 363.15H501.38V378.90H498.88ZM501.38 357.90H501.62V378.90H501.38ZM501.62 357.90H505.62V368.40H501.62ZM505.62 352.65H507.12V368.40H505.62ZM507.12 357.90H509.38V368.40H507.12ZM509.38 363.15H509.62V368.40H509.38ZM509.62 363.15H511.88V378.90H509.62ZM511.88 363.15H515.88V373.65H511.88ZM515.88 357.90H517.38V373.65H515.88ZM517.38 357.90H518.62V389.40H517.38ZM518.62 342.15H518.88V389.40H518.62ZM518.88 342.15H520.12V373.65H518.88ZM522.12 373.65H524.12V384.15H522.12ZM524.12 363.15H524.38V384.15H524.12ZM525.62 357.90H525.88V363.15H525.62ZM527.62 342.15H529.12V357.90H527.62ZM529.12 342.15H529.38V378.90H529.12ZM529.38 357.90H531.38V378.90H529.38ZM531.88 378.90H534.12V394.65H531.88ZM534.12 378.90H534.62V384.15H534.12ZM534.62 368.40H538.38V384.15H534.62ZM538.38 363.15H540.12V384.15H538.38ZM540.12 363.15H542.12V389.40H540.12ZM542.12 352.65H542.38V389.40H542.12ZM543.62 342.15H545.12V352.65H543.62ZM545.12 342.15H545.38V389.40H545.12ZM545.38 357.90H546.88V389.40H545.38ZM546.88 357.90H548.38V378.90H546.88ZM548.38 363.15H550.88V378.90H548.38ZM550.88 368.40H552.62V378.90H550.88ZM552.62 368.40H554.88V384.15H552.62Z" fill="#0000ff" stroke="#0000ff" stroke-width="2.08" stroke-linejoin="round"/>
</g>
<path d="M102 410 L449 410 L449 405 L450 405 L450 410 L498 410 L498 405 L499 405 L499 410 L554 410" stroke="#bf00bf" stroke-width="2"/>
</g>
<rect x="80.5" y="58.5" width="496" height="369" fill="none" stroke="#000" stroke-width="1.1"/>
<g stroke="#000" stroke-width="1.1">
<line x1="103.5" y1="428" x2="103.5" y2="432.8"/>
<line x1="195.5" y1="428" x2="195.5" y2="432.8"/>
<line x1="287.5" y1="428" x2="287.5" y2="432.8"/>
<line x1="379.5" y1="428" x2="379.5" y2="432.8"/>
<line x1="471.5" y1="428" x2="471.5" y2="432.8"/>
<line x1="564.5" y1="428" x2="564.5" y2="432.8"/>
<line x1="75.2" y1="410.5" x2="80" y2="410.5"/>
<line x1="75.2" y1="358.5" x2="80" y2="358.5"/>
<line x1="75.2" y1="305.5" x2="80" y2="305.5"/>
<line x1="75.2" y1="253.5" x2="80" y2="253.5"/>
<line x1="75.2" y1="200.5" x2="80" y2="200.5"/>
<line x1="75.2" y1="148.5" x2="80" y2="148.5"/>
<line x1="75.2" y1="95.5" x2="80" y2="95.5"/>
</g>
<text x="102.7" y="448.3" font-size="14" text-anchor="middle" textLength="29" lengthAdjust="spacingAndGlyphs">0.00</text>
<text x="194.7" y="448.3" font-size="14" text-anchor="middle" textLength="29" lengthAdjust="spacingAndGlyphs">0.05</text>
<text x="286.7" y="448.3" font-size="14" text-anchor="middle" textLength="29" lengthAdjust="spacingAndGlyphs">0.10</text>
<text x="378.7" y="448.3" font-size="14" text-anchor="middle" textLength="29" lengthAdjust="spacingAndGlyphs">0.15</text>
<text x="470.7" y="448.3" font-size="14" text-anchor="middle" textLength="29" lengthAdjust="spacingAndGlyphs">0.20</text>
<text x="563.7" y="448.3" font-size="14" text-anchor="middle" textLength="29" lengthAdjust="spacingAndGlyphs">0.25</text>
<text x="62.4" y="415.7" font-size="14" textLength="7.9" lengthAdjust="spacingAndGlyphs">0</text>
<text x="53.4" y="363.7" font-size="14" textLength="16.2" lengthAdjust="spacingAndGlyphs">10</text>
<text x="53.1" y="310.7" font-size="14" textLength="17.2" lengthAdjust="spacingAndGlyphs">20</text>
<text x="53.1" y="258.7" font-size="14" textLength="17.2" lengthAdjust="spacingAndGlyphs">30</text>
<text x="53.1" y="205.7" font-size="14" textLength="17.2" lengthAdjust="spacingAndGlyphs">40</text>
<text x="53.1" y="153.7" font-size="14" textLength="17.2" lengthAdjust="spacingAndGlyphs">50</text>
<text x="53.1" y="100.7" font-size="14" textLength="17.2" lengthAdjust="spacingAndGlyphs">60</text>
<text x="314.5" y="467.3" font-size="14" textLength="27" lengthAdjust="spacingAndGlyphs">t (s)</text>
<text transform="translate(42.6,307.6) rotate(-90)" font-size="14" textLength="128.6" lengthAdjust="spacingAndGlyphs">Molecule Numbers</text>
<rect x="470.5" y="198.5" width="99" height="88" rx="2.8" ry="2.8" fill="#ffffff" fill-opacity="0.8" stroke="#cccccc" stroke-width="1.1"/>
<line x1="475" y1="210.0" x2="505" y2="210.0" stroke="#ff0000" stroke-width="2"/>
<text x="515.2" y="214.9" font-size="14" textLength="20.7" lengthAdjust="spacingAndGlyphs">CO</text>
<path d="M538.10 205.85L538.10 212.55M535.20 207.52L541.00 210.88M541.00 207.52L535.20 210.88" stroke="#000" stroke-width="0.9" fill="none"/>
<line x1="475" y1="231.0" x2="505" y2="231.0" stroke="#008000" stroke-width="2"/>
<text x="515.2" y="235.9" font-size="14" textLength="9.9" lengthAdjust="spacingAndGlyphs">H</text>
<path d="M528.35 226.85L528.35 233.55M525.45 228.52L531.25 231.88M531.25 228.52L525.45 231.88" stroke="#000" stroke-width="0.9" fill="none"/>
<line x1="475" y1="252.0" x2="505" y2="252.0" stroke="#0000ff" stroke-width="2"/>
<text x="515.2" y="256.9" font-size="14" textLength="28.4" lengthAdjust="spacingAndGlyphs">H2O</text>
<path d="M547.50 247.85L547.50 254.55M544.60 249.52L550.40 252.88M550.40 249.52L544.60 252.88" stroke="#000" stroke-width="0.9" fill="none"/>
<line x1="475" y1="273.0" x2="505" y2="273.0" stroke="#bf00bf" stroke-width="2"/>
<text x="515.2" y="277.9" font-size="14" textLength="41.0" lengthAdjust="spacingAndGlyphs">COOH</text>
<path d="M559.20 268.85L559.20 275.55M556.30 270.52L562.10 273.88M562.10 270.52L556.30 273.88" stroke="#000" stroke-width="0.9" fill="none"/>
</svg></body></html>
